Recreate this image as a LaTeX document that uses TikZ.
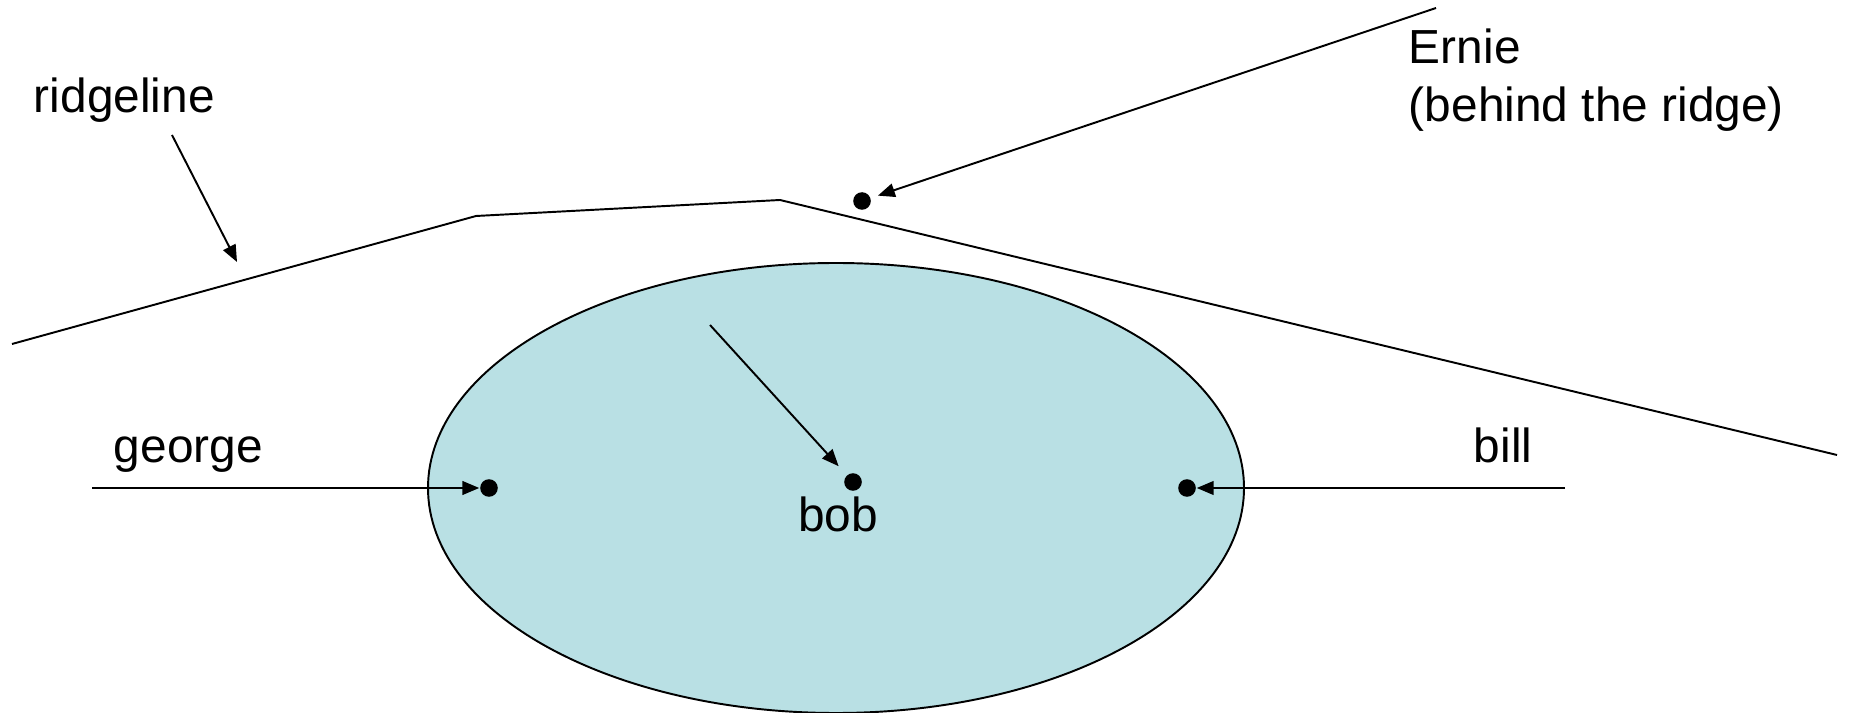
\documentclass[tikz,border=0pt]{standalone}
\usepackage{fontspec}
\setmainfont{Liberation Sans}
\usetikzlibrary{arrows.meta}

\definecolor{lakeblue}{RGB}{185,224,228}

\tikzset{
  lbl/.style={inner sep=0pt,anchor=base west,font=\fontsize{13.6}{16.5}\selectfont},
  spot/.style={circle,fill=black,inner sep=0pt,minimum size=5pt},
  pointer/.style={-{Triangle[length=4.8pt,width=3.9pt]},line width=0.55pt}
}

\begin{document}
\begin{tikzpicture}[x=0.01cm,y=-0.01cm,line width=0.55pt]
\useasboundingbox (0,0) rectangle (1849,713);

% the lake
\draw[fill=lakeblue] (836,488) ellipse [x radius=408,y radius=225];

% ridge
\coordinate (r1) at (12,344);
\coordinate (r2) at (476,216);
\coordinate (r3) at (780,200);
\coordinate (r4) at (1837,455);
\draw (r1) -- (r2) -- (r3) -- (r4);

% people
\node[spot] (ernie) at (862,201) {};
\node[spot] (george) at (489,488) {};
\node[spot] (bob) at (853,482) {};
\node[spot] (bill) at (1187,488) {};

% labels
\node[lbl] (ridgelbl) at (33,113) {ridgeline};
\node[lbl,align=left] (ernielbl) at (1408,122) {Ernie\\(behind the ridge)};
\node[lbl] (georgelbl) at (113,463) {george};
\node[lbl,anchor=base] (boblbl) at (838,532) {bob};
\node[lbl] (billlbl) at (1473,463) {bill};

% arrows
\coordinate (ridgetail) at (172,135);
\coordinate (ridgehead) at (237,262);
\coordinate (ernietail) at (1436,8);
\coordinate (georgetail) at (92,488);
\coordinate (bobtail) at (710,325);
\coordinate (billtail) at (1565,488);

\draw[pointer] (ridgetail) -- (ridgehead);
\draw[pointer,shorten >=2pt] (ernietail) -- (ernie);
\draw[pointer] (georgetail) -- (george);
\draw[pointer,shorten >=3.3pt] (bobtail) -- (bob);
\draw[pointer] (billtail) -- (bill);
\end{tikzpicture}
\end{document}
